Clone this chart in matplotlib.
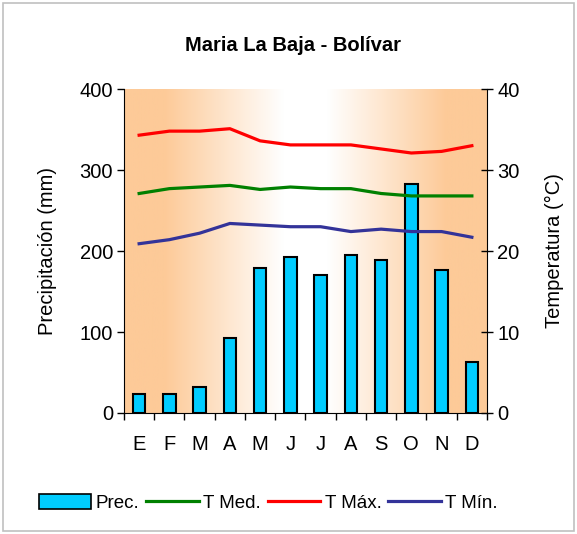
import numpy as np
import matplotlib
matplotlib.use("Agg")
import matplotlib.pyplot as plt
from matplotlib.colors import LinearSegmentedColormap
from matplotlib.patches import Rectangle, Patch
from matplotlib.lines import Line2D

plt.rcParams['font.family'] = ['Liberation Sans', 'DejaVu Sans']

# data
months = ['E', 'F', 'M', 'A', 'M', 'J', 'J', 'A', 'S', 'O', 'N', 'D']
prec = [24, 24, 32, 93, 179, 192, 170, 195, 189, 283, 177, 63]
t_med = [27.1, 27.7, 27.9, 28.1, 27.6, 27.9, 27.7, 27.7, 27.1, 26.8, 26.8, 26.8]
t_max = [34.3, 34.8, 34.8, 35.1, 33.6, 33.1, 33.1, 33.1, 32.6, 32.1, 32.3, 33.0]
t_min = [20.9, 21.4, 22.2, 23.4, 23.2, 23.0, 23.0, 22.4, 22.7, 22.4, 22.4, 21.7]

fs = 14.5

fig = plt.figure(figsize=(5.77, 5.34), dpi=100)
fig.patches.append(Rectangle((0.006, 0.006), 0.988, 0.988, transform=fig.transFigure,
                             fill=False, edgecolor='#c0c0c0', lw=1.2))

ax = fig.add_axes([0.2149, 0.2266, 0.6291, 0.6067])
x = np.arange(len(months))

# gradient background
orange = '#fdca98'
cmap = LinearSegmentedColormap.from_list('bg', ['white', orange])
u = np.linspace(0, 1, 400)
t = np.clip((np.abs(u - 0.5) - 0.06) / 0.33, 0, 1)
ax.imshow(t[np.newaxis, :], cmap=cmap, aspect='auto', extent=(-0.5, 11.5, 0, 400),
          vmin=0, vmax=1, zorder=0)

ax.bar(x, prec, width=0.42, color='#00ccff', edgecolor='black', linewidth=1.5, zorder=2)
ax.set_xlim(-0.5, 11.5)
ax.set_ylim(0, 400)
ax.set_yticks([0, 100, 200, 300, 400])
ax.set_xticks(x)
ax.set_xticklabels(months)
ax.set_xticks(np.arange(-0.5, 12, 1), minor=True)
ax.tick_params(axis='x', which='major', length=0, pad=16, labelsize=fs)
ax.tick_params(axis='x', which='minor', length=5, direction='out', width=1)
ax.tick_params(axis='y', length=5, direction='out', width=1, labelsize=fs, pad=3)
ax.spines['top'].set_visible(False)
ax.spines['right'].set_visible(False)
ax.set_ylabel('Precipitación (mm)', fontsize=fs, labelpad=16)

ax2 = ax.twinx()
ax2.set_position(ax.get_position())
ax2.plot(x, t_med, color='#008000', lw=2.3, zorder=3)
ax2.plot(x, t_max, color='#ff0000', lw=2.3, zorder=3)
ax2.plot(x, t_min, color='#333399', lw=2.3, zorder=3)
ax2.set_ylim(0, 40)
ax2.set_yticks([0, 10, 20, 30, 40])
ax2.tick_params(axis='y', length=9, direction='inout', width=1, labelsize=fs, pad=3)
ax2.spines['top'].set_visible(False)
ax2.spines['left'].set_visible(False)
ax2.spines['bottom'].set_visible(False)
ax2.set_ylabel('Temperatura (°C)', fontsize=fs, labelpad=18)

fig.text(0.508, 0.915, 'Maria La Baja - Bolívar', ha='center', va='center',
         fontsize=14.5, fontweight='bold')

handles = [Patch(facecolor='#00ccff', edgecolor='black', linewidth=1.2),
           Line2D([], [], color='#008000', lw=2.3),
           Line2D([], [], color='#ff0000', lw=2.3),
           Line2D([], [], color='#333399', lw=2.3)]
fig.legend(handles, ['Prec.', 'T Med.', 'T Máx.', 'T Mín.'], loc='center',
           bbox_to_anchor=(0.465, 0.058), ncol=4, frameon=False, fontsize=13.5,
           handlelength=2.8, handletextpad=0.25, columnspacing=0.35, handleheight=0.8)

fig.savefig('out.png', dpi=100)
